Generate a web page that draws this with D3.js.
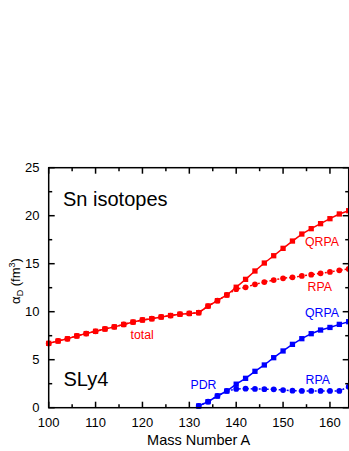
<!DOCTYPE html>
<html><head><meta charset="utf-8">
<script src="https://cdn.jsdelivr.net/npm/d3@7"></script>
<style>body{margin:0;background:#fff}svg{display:block}text{font-family:"Liberation Sans",Arial,sans-serif}</style>
</head><body><svg id="c" width="349" height="451"></svg>
<script>
const massA = [100,102,104,106,108,110,112,114,116,118,120,122,124,126,128,130,132,134,136,138,140,142,144,146,148,150,152,154,156,158,160,162,164];
const totalQRPA = [6.70,6.95,7.18,7.48,7.72,7.96,8.20,8.42,8.67,8.92,9.14,9.27,9.45,9.60,9.74,9.82,9.90,10.59,11.15,11.74,12.55,13.37,14.24,15.07,15.83,16.60,17.36,18.09,18.65,19.17,19.69,20.18,20.52];
const totalRPA = [6.70,6.95,7.18,7.48,7.72,7.96,8.20,8.42,8.67,8.92,9.14,9.27,9.45,9.60,9.74,9.82,9.90,10.59,11.15,11.74,12.35,12.54,12.85,13.09,13.30,13.48,13.58,13.72,13.85,14.00,14.14,14.31,14.45];
const pdrA = [132,134,136,138,140,142,144,146,148,150,152,154,156,158,160,162,164];
const pdrQRPA = [0.18,0.63,1.22,1.74,2.45,3.06,3.79,4.45,5.21,5.91,6.60,7.19,7.71,8.09,8.36,8.68,8.96];
const pdrRPA = [0.18,0.63,1.22,1.74,1.95,1.98,1.95,1.93,1.91,1.84,1.77,1.74,1.74,1.74,1.74,1.74,2.19];
const xTicks = [100,110,120,130,140,150,160];
const yTicks = [0,5,10,15,20,25];

const svg = d3.select("#c");
const x = d3.scaleLinear().domain([100,164]).range([48.7,348.7]);
const y = d3.scaleLinear().domain([0,25]).range([407.7,167.7]);
const red = "#ff0000", blue = "#0000ff";

function series(xs, ys, color, dashed, marker){
  const pts = xs.map((a,i)=>[a,ys[i]]);
  svg.append("path").datum(pts)
    .attr("d", d3.line().x(d=>x(d[0])).y(d=>y(d[1])))
    .attr("fill","none").attr("stroke",color).attr("stroke-width",1.5)
    .attr("stroke-dasharray", dashed ? "2,2" : null);
  const sym = d3.symbol().type(marker==="sq" ? d3.symbolSquare : d3.symbolCircle).size(marker==="sq"?28:26);
  svg.append("g").selectAll("path").data(pts).join("path")
    .attr("transform", d=>`translate(${x(d[0])},${y(d[1])})`)
    .attr("d", sym).attr("fill", color);
}
series(massA, totalRPA, red, true, "ci");
series(massA, totalQRPA, red, false, "sq");
series(pdrA, pdrRPA, blue, true, "ci");
series(pdrA, pdrQRPA, blue, false, "sq");

// frame & ticks
const ax = svg.append("g").attr("stroke","#000").attr("stroke-width",1.5);
ax.append("rect").attr("x",x(100)).attr("y",y(25)).attr("width",x(164)-x(100)).attr("height",y(0)-y(25)).attr("fill","none");
for (let v=100; v<=164; v+=5){
  const L = v%10===0 ? 6 : 3.5;
  ax.append("line").attr("x1",x(v)).attr("x2",x(v)).attr("y1",y(0)).attr("y2",y(0)-L);
  ax.append("line").attr("x1",x(v)).attr("x2",x(v)).attr("y1",y(25)).attr("y2",y(25)+L);
}
for (let v=0; v<=25; v+=2.5){
  const L = v%5===0 ? 6 : 3.5;
  ax.append("line").attr("x1",x(100)).attr("x2",x(100)+L).attr("y1",y(v)).attr("y2",y(v));
  ax.append("line").attr("x1",x(164)).attr("x2",x(164)-L).attr("y1",y(v)).attr("y2",y(v));
}
svg.append("g").selectAll("text").data(xTicks).join("text")
  .attr("x",d=>x(d)).attr("y",427).attr("text-anchor","middle").attr("font-size",13).text(d=>d);
svg.append("g").selectAll("text").data(yTicks).join("text")
  .attr("x",39.5).attr("y",d=>y(d)+4.6).attr("text-anchor","end").attr("font-size",13).text(d=>d);

svg.append("text").attr("x",(x(100)+x(164))/2).attr("y",444.5).attr("text-anchor","middle").attr("font-size",14.5).text("Mass Number A");
const yt = svg.append("text").attr("transform","translate(20,281) rotate(-90)").attr("text-anchor","middle").attr("font-size",13);
yt.append("tspan").text("α");
yt.append("tspan").attr("font-size",9).attr("dy",3).text("D");
yt.append("tspan").attr("dy",-3).text(" (fm");
yt.append("tspan").attr("font-size",9).attr("dy",-5).text("3");
yt.append("tspan").attr("dy",5).text(")");

svg.append("text").attr("x",63).attr("y",206).attr("font-size",20).text("Sn isotopes");
svg.append("text").attr("x",63.5).attr("y",386).attr("font-size",20).text("SLy4");

const labels = [
  {t:"QRPA", x:305, y:246, c:red},
  {t:"RPA", x:307.5, y:291, c:red},
  {t:"total", x:130.5, y:338.5, c:red},
  {t:"QRPA", x:305, y:316.5, c:blue},
  {t:"PDR", x:190.5, y:389, c:blue},
  {t:"RPA", x:305.5, y:384, c:blue}
];
svg.append("g").selectAll("text").data(labels).join("text")
  .attr("x",d=>d.x).attr("y",d=>d.y).attr("fill",d=>d.c).attr("font-size",12.3).text(d=>d.t);
</script></body></html>
